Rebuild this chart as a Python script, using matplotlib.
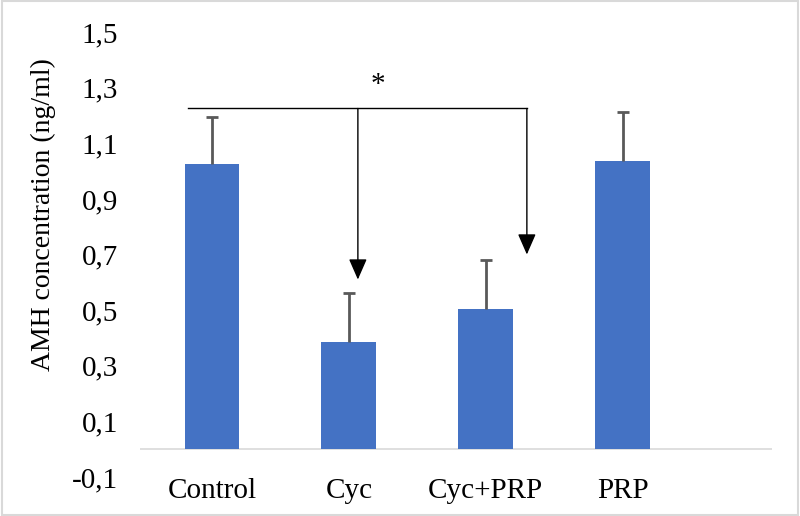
import numpy as np
import matplotlib
matplotlib.use("Agg")
import matplotlib.pyplot as plt
from matplotlib.ticker import FuncFormatter
from matplotlib.patches import Rectangle

# data
groups = ["Control", "Cyc", "Cyc+PRP", "PRP"]
amh_mean = [1.025, 0.386, 0.505, 1.036]
amh_err = [0.17, 0.175, 0.175, 0.175]

# significance bracket (data coords)
bracket_left = -0.175
bracket_y = 1.225
arrow_x = [1.066, 2.30]
arrow_tip = [0.61, 0.70]
star_pos = (1.21, 1.31)

plt.rcParams['font.family'] = ['Liberation Serif', 'DejaVu Serif']

fig = plt.figure(figsize=(8, 5.16), dpi=100)
ax = fig.add_axes([140 / 800, 1 - 477 / 516, (772 - 140) / 800, (477 - 32) / 516])

x = np.arange(len(groups))
ax.bar(x, amh_mean, width=0.4, color="#4472C4", zorder=2)
_, caps, _ = ax.errorbar(x, amh_mean, yerr=[np.zeros(len(x)), amh_err], fmt="none",
                         ecolor="#595959", elinewidth=2, capsize=4, capthick=2, zorder=3)
# only the upper cap is shown
for c in caps:
    if np.allclose(c.get_ydata(), amh_mean):
        c.set_visible(False)

ax.axhline(0, color="#D9D9D9", lw=1.2, zorder=1)

# bracket with arrows
ax.plot([bracket_left, arrow_x[-1]], [bracket_y, bracket_y], color="black", lw=1)
for ax_x, tip in zip(arrow_x, arrow_tip):
    ax.annotate("", xy=(ax_x, tip), xytext=(ax_x, bracket_y),
                arrowprops=dict(arrowstyle="-|>,head_length=0.8,head_width=0.35",
                                mutation_scale=16, color="black", lw=1,
                                shrinkA=0, shrinkB=0))
ax.text(star_pos[0], star_pos[1], "*", ha="center", va="center", fontsize=21)

ax.set_xlim(-0.525, 4.09)
ax.set_ylim(-0.1, 1.5)
ax.set_yticks(np.arange(-0.1, 1.51, 0.2))
ax.yaxis.set_major_formatter(FuncFormatter(lambda v, p: f"{v:.1f}".replace(".", ",")))
ax.set_xticks(x)
ax.set_xticklabels(groups)
ax.tick_params(axis="both", length=0, labelsize=21)
ax.tick_params(axis="y", pad=16)
ax.tick_params(axis="x", pad=1)
for s in ax.spines.values():
    s.set_visible(False)

fig.text(43 / 800, 1 - 215 / 516, "AMH concentration (ng/ml)", rotation=90,
         ha="center", va="center", fontsize=20)

fig.patches.append(Rectangle((0.002, 0.002), 0.996, 0.996, transform=fig.transFigure,
                             fill=False, edgecolor="#D9D9D9", lw=1.5))

fig.savefig("out.png", dpi=100)
